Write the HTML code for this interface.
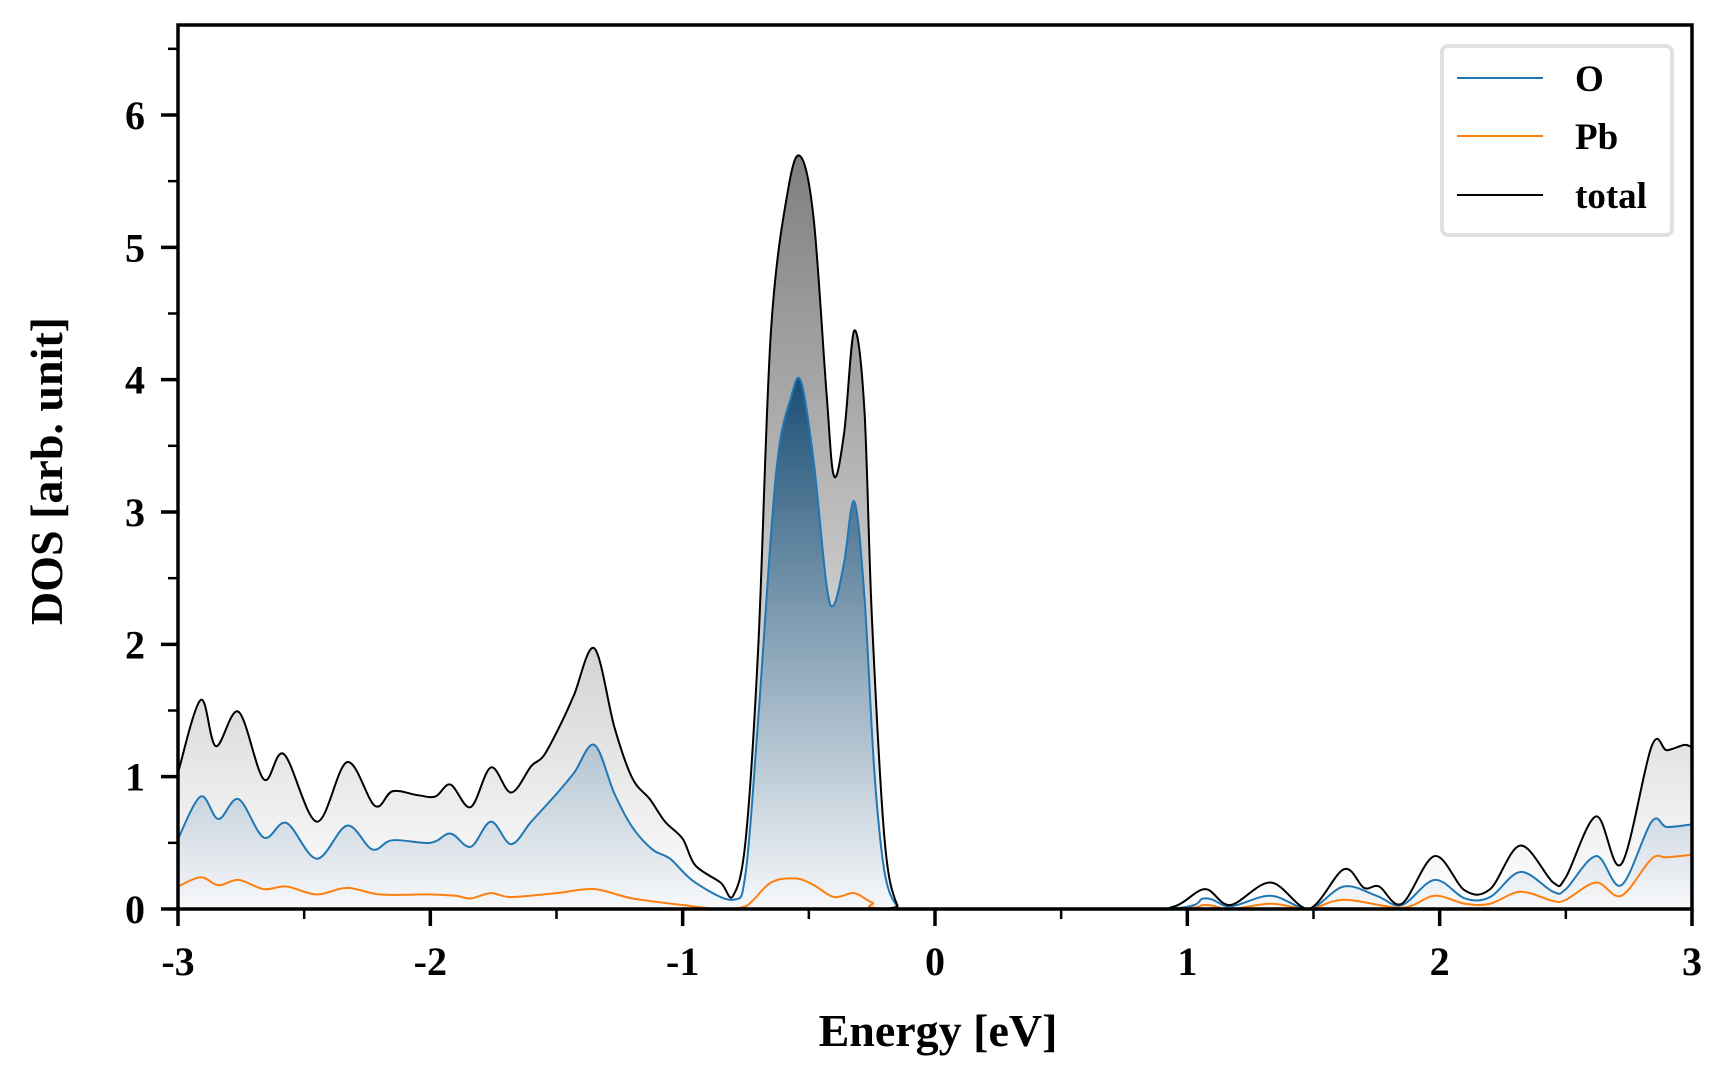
<!DOCTYPE html>
<html><head><meta charset="utf-8"><style>
html,body{margin:0;padding:0;background:#fff}
svg{display:block}
text{font-family:"Liberation Serif",serif;font-weight:bold;fill:#000}
</style></head><body>
<svg id="chart" width="1728" height="1080" viewBox="0 0 1728 1080">
<defs>
<linearGradient id="gTot" gradientUnits="userSpaceOnUse" x1="0" y1="160" x2="0" y2="909">
<stop offset="0" stop-color="#808080"/><stop offset="1" stop-color="#ffffff"/></linearGradient>
<linearGradient id="gO" gradientUnits="userSpaceOnUse" x1="0" y1="380" x2="0" y2="909">
<stop offset="0" stop-color="#1b4f75"/><stop offset="1" stop-color="#f7f8fa"/></linearGradient>
<clipPath id="plotclip"><rect x="178" y="25" width="1514" height="884"/></clipPath>
</defs>
<g id="marks" clip-path="url(#plotclip)"></g>
<rect x="178" y="25" width="1514" height="884" fill="none" stroke="#000" stroke-width="3.5"/>
<g id="axes"></g>
<text x="938" y="1046" font-size="46" text-anchor="middle">Energy [eV]</text>
<text transform="translate(62,471) rotate(-90)" font-size="46" text-anchor="middle">DOS [arb. unit]</text>
<g>
<rect x="1442" y="46" width="230" height="189" rx="6" fill="#fff" stroke="#e0e0e0" stroke-width="4"/>
<line x1="1457" y1="78" x2="1543" y2="78" stroke="#1f77b4" stroke-width="2"/>
<text x="1575" y="91" font-size="37">O</text>
<line x1="1457" y1="136" x2="1543" y2="136" stroke="#ff7f0e" stroke-width="2"/>
<text x="1575" y="149" font-size="37">Pb</text>
<line x1="1457" y1="195" x2="1543" y2="195" stroke="#000" stroke-width="2"/>
<text x="1575" y="208" font-size="37">total</text>
</g>
</svg>
<script>
const totE=[-3.0,-2.91,-2.85,-2.76,-2.66,-2.58,-2.45,-2.33,-2.22,-2.15,-2.05,-1.98,-1.92,-1.84,-1.76,-1.68,-1.60,-1.55,-1.48,-1.43,-1.35,-1.27,-1.2,-1.13,-1.07,-1.0,-0.95,-0.85,-0.80,-0.75,-0.70,-0.65,-0.58,-0.53,-0.48,-0.43,-0.40,-0.36,-0.32,-0.28,-0.25,-0.2,-0.15,-0.1,0.8,0.95,1.07,1.17,1.33,1.48,1.62,1.70,1.76,1.85,1.98,2.1,2.2,2.32,2.45,2.5,2.62,2.72,2.84,2.9,2.97,3.0];
const totV=[1.03,1.58,1.23,1.49,0.98,1.17,0.66,1.11,0.78,0.89,0.86,0.85,0.94,0.77,1.07,0.88,1.08,1.16,1.41,1.62,1.97,1.37,0.99,0.83,0.66,0.53,0.33,0.2,0.1,0.53,2.0,4.37,5.46,5.68,5.2,3.9,3.27,3.6,4.37,3.78,2.2,0.53,0.03,0,0,0.02,0.15,0.03,0.2,0.0,0.3,0.16,0.17,0.04,0.4,0.14,0.15,0.48,0.2,0.24,0.70,0.34,1.23,1.2,1.24,1.22];
const oE=[-3.0,-2.91,-2.84,-2.76,-2.66,-2.57,-2.45,-2.33,-2.23,-2.15,-2.0,-1.92,-1.84,-1.76,-1.68,-1.6,-1.5,-1.43,-1.35,-1.27,-1.2,-1.12,-1.05,-0.95,-0.8,-0.75,-0.70,-0.63,-0.57,-0.53,-0.48,-0.43,-0.40,-0.36,-0.32,-0.28,-0.24,-0.2,-0.15,-0.1,0.9,1.07,1.17,1.33,1.48,1.62,1.75,1.85,1.98,2.1,2.2,2.32,2.45,2.5,2.62,2.72,2.84,2.9,3.0];
const oV=[0.53,0.85,0.68,0.83,0.54,0.65,0.38,0.63,0.45,0.52,0.5,0.57,0.47,0.66,0.49,0.66,0.87,1.03,1.24,0.87,0.62,0.45,0.38,0.2,0.07,0.28,1.45,3.29,3.87,3.98,3.37,2.45,2.3,2.62,3.08,2.37,1.03,0.28,0.02,0,0,0.08,0.02,0.1,0,0.17,0.1,0.03,0.22,0.08,0.09,0.28,0.13,0.15,0.4,0.18,0.66,0.62,0.64];
const pbE=[-3.0,-2.91,-2.84,-2.76,-2.66,-2.57,-2.45,-2.33,-2.2,-2.0,-1.9,-1.84,-1.76,-1.68,-1.5,-1.35,-1.2,-1.0,-0.85,-0.75,-0.65,-0.55,-0.48,-0.40,-0.32,-0.25,-0.15,0.9,1.07,1.17,1.33,1.48,1.62,1.85,1.98,2.1,2.2,2.32,2.45,2.5,2.62,2.72,2.84,2.9,3.0];
const pbV=[0.17,0.24,0.18,0.22,0.15,0.17,0.11,0.16,0.11,0.11,0.1,0.08,0.12,0.09,0.12,0.15,0.08,0.03,0,0.02,0.2,0.23,0.18,0.09,0.12,0.05,0,0,0.03,0,0.04,0,0.07,0.01,0.1,0.04,0.04,0.13,0.06,0.07,0.2,0.1,0.38,0.39,0.41];
const xTicks=[-3,-2,-1,0,1,2,3];
const xTickLabels=["-3","-2","-1","0","1","2","3"];
const yTicks=[0,1,2,3,4,5,6];
const yTickLabels=["0","1","2","3","4","5","6"];

const X0=178,X1=1692,Y0=909,YT=25,XMIN=-3,XMAX=3,YMAX=6.68;
function sx(e){return X0+(e-XMIN)/(XMAX-XMIN)*(X1-X0);}
function sy(v){return Y0-v/YMAX*(Y0-YT);}
const NS="http://www.w3.org/2000/svg";
function pathD(E,V){
  const p=E.map((e,i)=>[sx(e),sy(V[i])]);
  let d="M"+p[0][0].toFixed(2)+","+p[0][1].toFixed(2);
  for(let i=0;i<p.length-1;i++){
    const a=p[Math.max(i-1,0)],b=p[i],c=p[i+1],e=p[Math.min(i+2,p.length-1)];
    let c1x=b[0]+(c[0]-a[0])/6,c1y=b[1]+(c[1]-a[1])/6;
    let c2x=c[0]-(e[0]-b[0])/6,c2y=c[1]-(e[1]-b[1])/6;
    c1y=Math.min(c1y,Y0);c2y=Math.min(c2y,Y0);
    d+="C"+c1x.toFixed(2)+","+c1y.toFixed(2)+" "+c2x.toFixed(2)+","+c2y.toFixed(2)+" "+c[0].toFixed(2)+","+c[1].toFixed(2);
  }
  return d;
}
const marks=document.getElementById('marks');
function addSeries(E,V,fill,stroke,name){
  const d=pathD(E,V);
  if(fill){
    const f=document.createElementNS(NS,'path');
    f.setAttribute('d',d+"L"+sx(E[E.length-1])+","+Y0+"L"+sx(E[0])+","+Y0+"Z");
    f.setAttribute('fill',fill);
    
    
    marks.appendChild(f);
  }
  const l=document.createElementNS(NS,'path');
  l.setAttribute('d',d);l.setAttribute('fill','none');l.setAttribute('stroke',stroke);l.setAttribute('stroke-width','2');
  
  
  return l;
}
const lt=addSeries(totE,totV,'url(#gTot)','#000','total');
const lo=addSeries(oE,oV,'url(#gO)','#1f77b4','o');
const lp=addSeries(pbE,pbV,null,'#ff7f0e','pb');
marks.appendChild(lo);marks.appendChild(lp);marks.appendChild(lt);

const axes=document.getElementById('axes');
function line(x1,y1,x2,y2,w,name){
  const l=document.createElementNS(NS,'line');
  l.setAttribute('x1',x1);l.setAttribute('y1',y1);l.setAttribute('x2',x2);l.setAttribute('y2',y2);
  l.setAttribute('stroke','#000');l.setAttribute('stroke-width',w);
  
  
  axes.appendChild(l);
}
function txt(x,y,s,anchor,name){
  const t=document.createElementNS(NS,'text');
  t.setAttribute('x',x);t.setAttribute('y',y);t.setAttribute('font-size','40');t.setAttribute('text-anchor',anchor);
  t.textContent=s;
  
  
  axes.appendChild(t);
}
xTicks.forEach((v,i)=>{line(sx(v),Y0,sx(v),Y0+17,3.5,'x-tick');txt(sx(v),975,xTickLabels[i],'middle','x-tick-label');});
for(let v=-2.5;v<3;v+=1){line(sx(v),Y0,sx(v),Y0+10,2.5,'x-minor-tick');}
yTicks.forEach((v,i)=>{line(X0-17,sy(v),X0,sy(v),3.5,'y-tick');txt(145,sy(v)+14,yTickLabels[i],'end','y-tick-label');});
for(let v=0.5;v<6.6;v+=1){line(X0-10,sy(v),X0,sy(v),2.5,'y-minor-tick');}
</script>
</body></html>
